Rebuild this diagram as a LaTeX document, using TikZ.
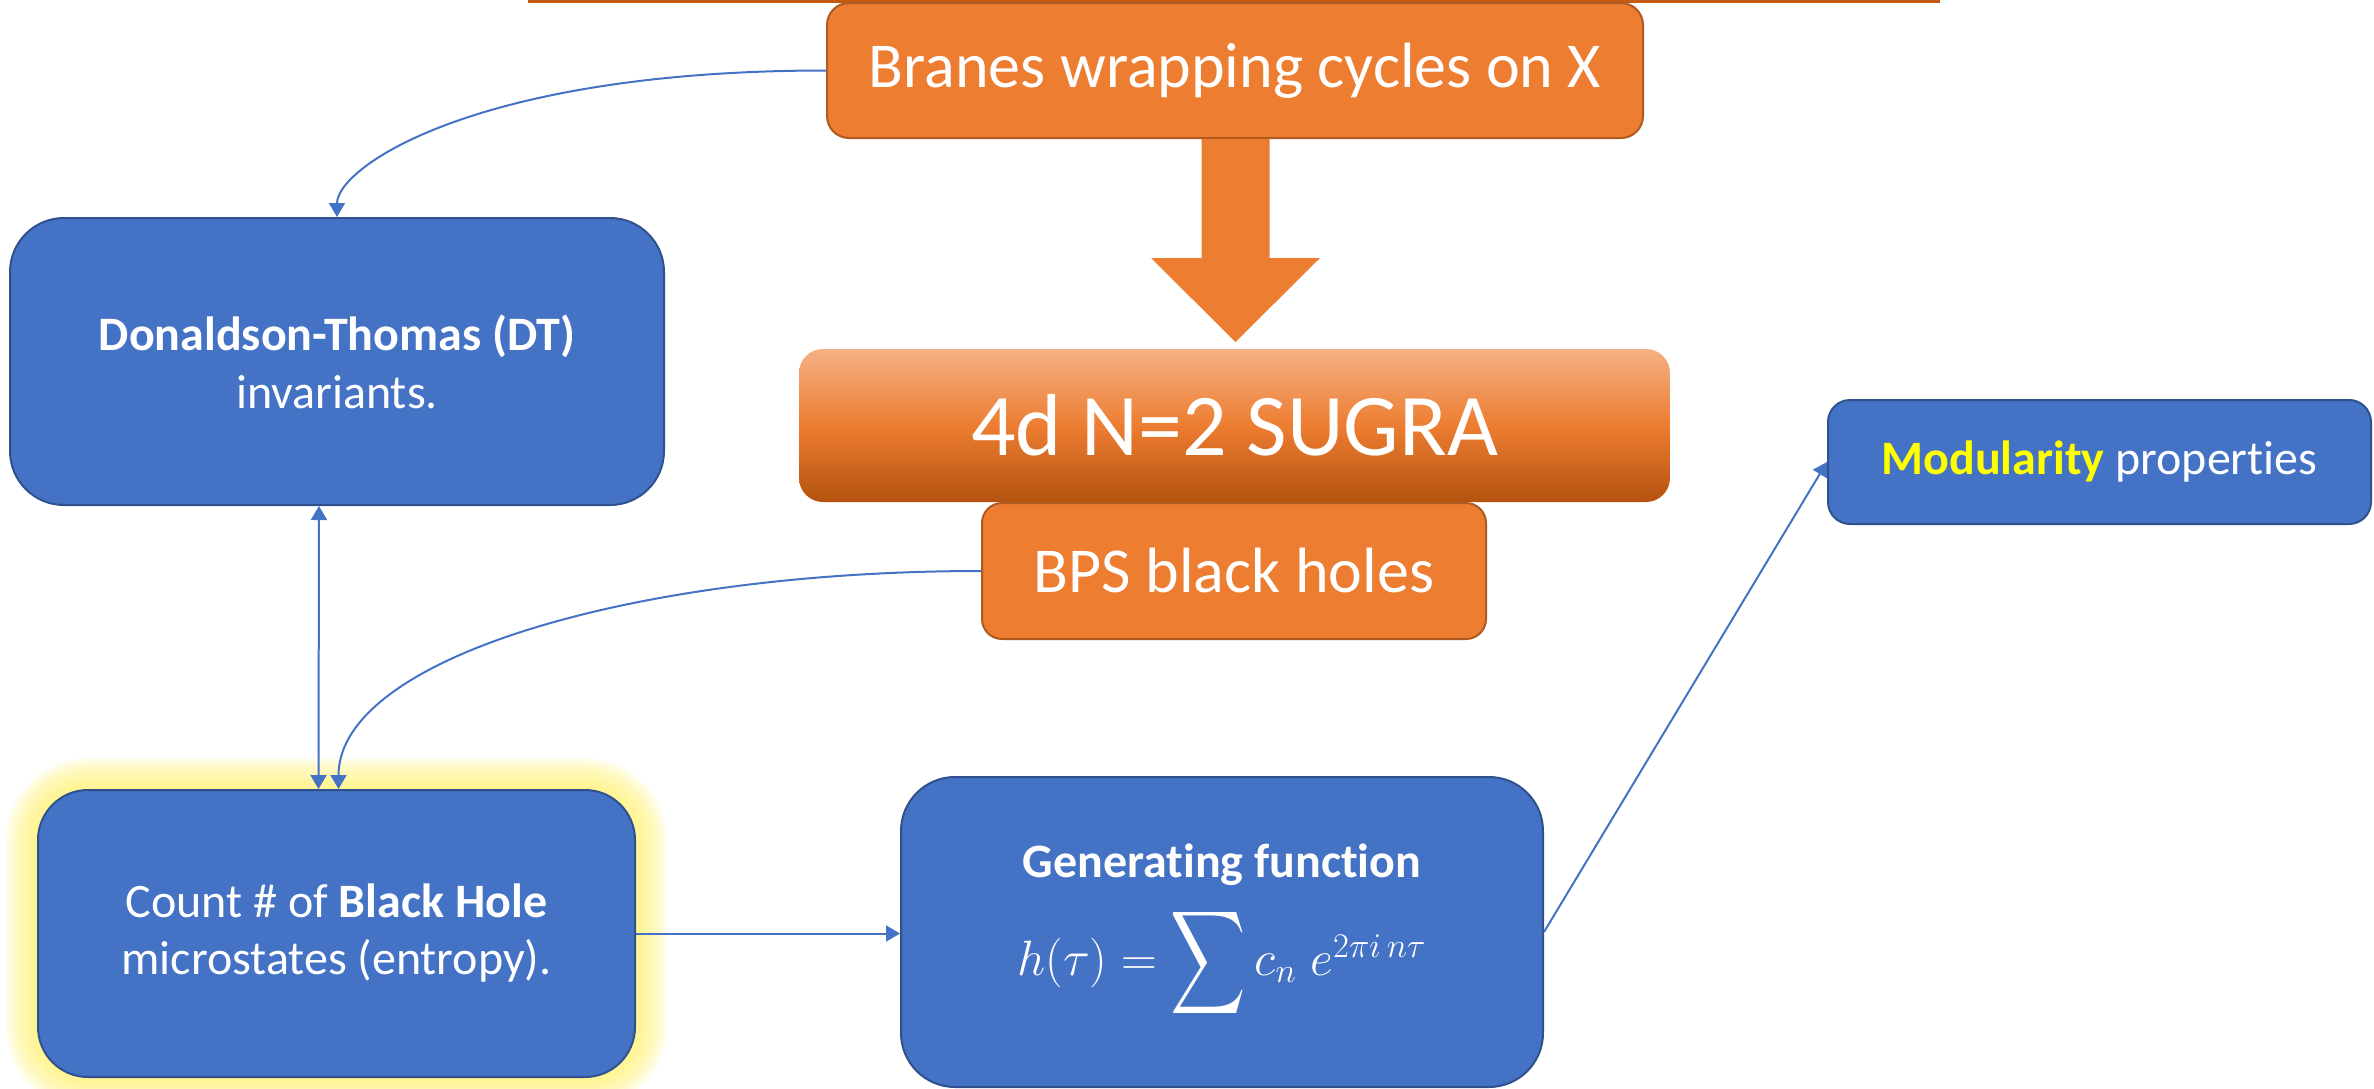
\documentclass[tikz,border=0pt]{standalone}
\usepackage{amsmath}
\usepackage{graphicx}
\usepackage{fontspec}
\setmainfont{Carlito}[Ligatures=NoCommon]
\usetikzlibrary{arrows.meta,calc}
\definecolor{bfill}{HTML}{4472C4}
\definecolor{bdraw}{HTML}{2F528F}
\definecolor{ofill}{HTML}{ED7D31}
\definecolor{odraw}{HTML}{AE5A21}
\definecolor{otop}{HTML}{F4B183}
\definecolor{obot}{HTML}{B4520F}
\definecolor{glow}{HTML}{FFF170}
\definecolor{ylw}{HTML}{FFFF00}
\definecolor{topline}{HTML}{C55A11}
\newcommand{\bigsumm}{\mathop{\vcenter{\hbox{\scalebox{1.05}[1.45]{$\displaystyle\sum$}}}}}
\begin{document}
\begin{tikzpicture}[x=0.5pt,y=-0.5pt,
  bluebox/.style={draw=bdraw,line width=1pt,fill=bfill,text=white,align=center,inner sep=0pt},
  orangebox/.style={draw=odraw,line width=1pt,fill=ofill,text=white,align=center,inner sep=0pt},
  conn/.style={draw=bfill,line width=1pt,-{Triangle[width=8pt,length=7pt]}},
  bigarrow/.style={fill=ofill},
]
\useasboundingbox (0,0) rectangle (2374,1088);
% top line
\draw[topline,line width=1.5pt] (528,1) -- (1940,1);
% glow behind count box
\foreach \r in {32,29,...,2}{
  \fill[glow,opacity=0.12,rounded corners=\r*0.5pt+25pt] (38-\r,790-\r) rectangle (635+\r,1077+\r);
}
\node[orangebox,minimum width=408pt,minimum height=67.5pt,rounded corners=11pt,
  font=\fontsize{32}{38}\selectfont] (branes) at (1235,70.5) {Branes wrapping cycles on X};
\node[top color=otop,bottom color=obot,middle color=ofill,minimum width=435.5pt,minimum height=76.5pt,
  rounded corners=12pt,text=white,inner sep=0pt,font=\fontsize{44}{50}\selectfont] (sugra) at (1234.5,425.5) {4d N=2 SUGRA};
\node[orangebox,minimum width=252pt,minimum height=68pt,rounded corners=10pt,
  font=\fontsize{32}{38}\selectfont] (bps) at (1234,571) {BPS black holes};
\node[bluebox,minimum width=327pt,minimum height=143.5pt,rounded corners=27pt,
  font=\fontsize{24}{29}\selectfont] (dt) at (337,361.5) {\textbf{Donaldson-Thomas (DT)}\\invariants.};
\node[bluebox,minimum width=298.5pt,minimum height=143.5pt,rounded corners=25pt,
  font=\fontsize{24}{28.5}\selectfont] (count) at (336.5,933.5) {Count \# of \textbf{Black Hole}\\microstates (entropy).};
\node[bluebox,minimum width=321pt,minimum height=155pt,rounded corners=27pt,
  font=\fontsize{24}{28}\selectfont] (gen) at (1222,932) {\textbf{Generating function}\\[9pt]
  \fontsize{24}{28}\selectfont $h(\tau)=\bigsumm c_n\; e^{2\pi i\, n\tau}$};
\node[bluebox,minimum width=271.5pt,minimum height=62pt,rounded corners=11pt,
  font=\fontsize{24}{28}\selectfont] (mod) at (2099.5,462) {\textcolor{ylw}{\textbf{Modularity}} properties};
% big block arrow
\fill[bigarrow] ($(branes.south)+(-33.5,0)$) -- ($(branes.south)+(-33.5,119)$) -- ($(branes.south)+(-84,119)$)
  -- ($(branes.south)+(0.5,203)$) -- ($(branes.south)+(85,119)$) -- ($(branes.south)+(34.5,119)$)
  -- ($(branes.south)+(34.5,0)$) -- cycle;
% connectors
\draw[conn] (branes.west) .. controls ($(branes.west)+(-350,0)$) and ($(dt.north)+(0,-50)$) .. (dt.north);
\draw[conn,{Triangle[width=8pt,length=7pt]}-{Triangle[width=8pt,length=7pt]}] ($(dt.south)+(-18,0)$) -- ($(count.north)+(-18,0)$);
\draw[conn] (bps.west) .. controls ($(bps.west)+(-350,0)$) and ($(count.north)+(2,-130)$) .. ($(count.north)+(2,0)$);
\draw[conn] (count.east) -- (count.east -| gen.west);
\draw[conn] (gen.east) -- (mod.west);
\end{tikzpicture}
\end{document}
